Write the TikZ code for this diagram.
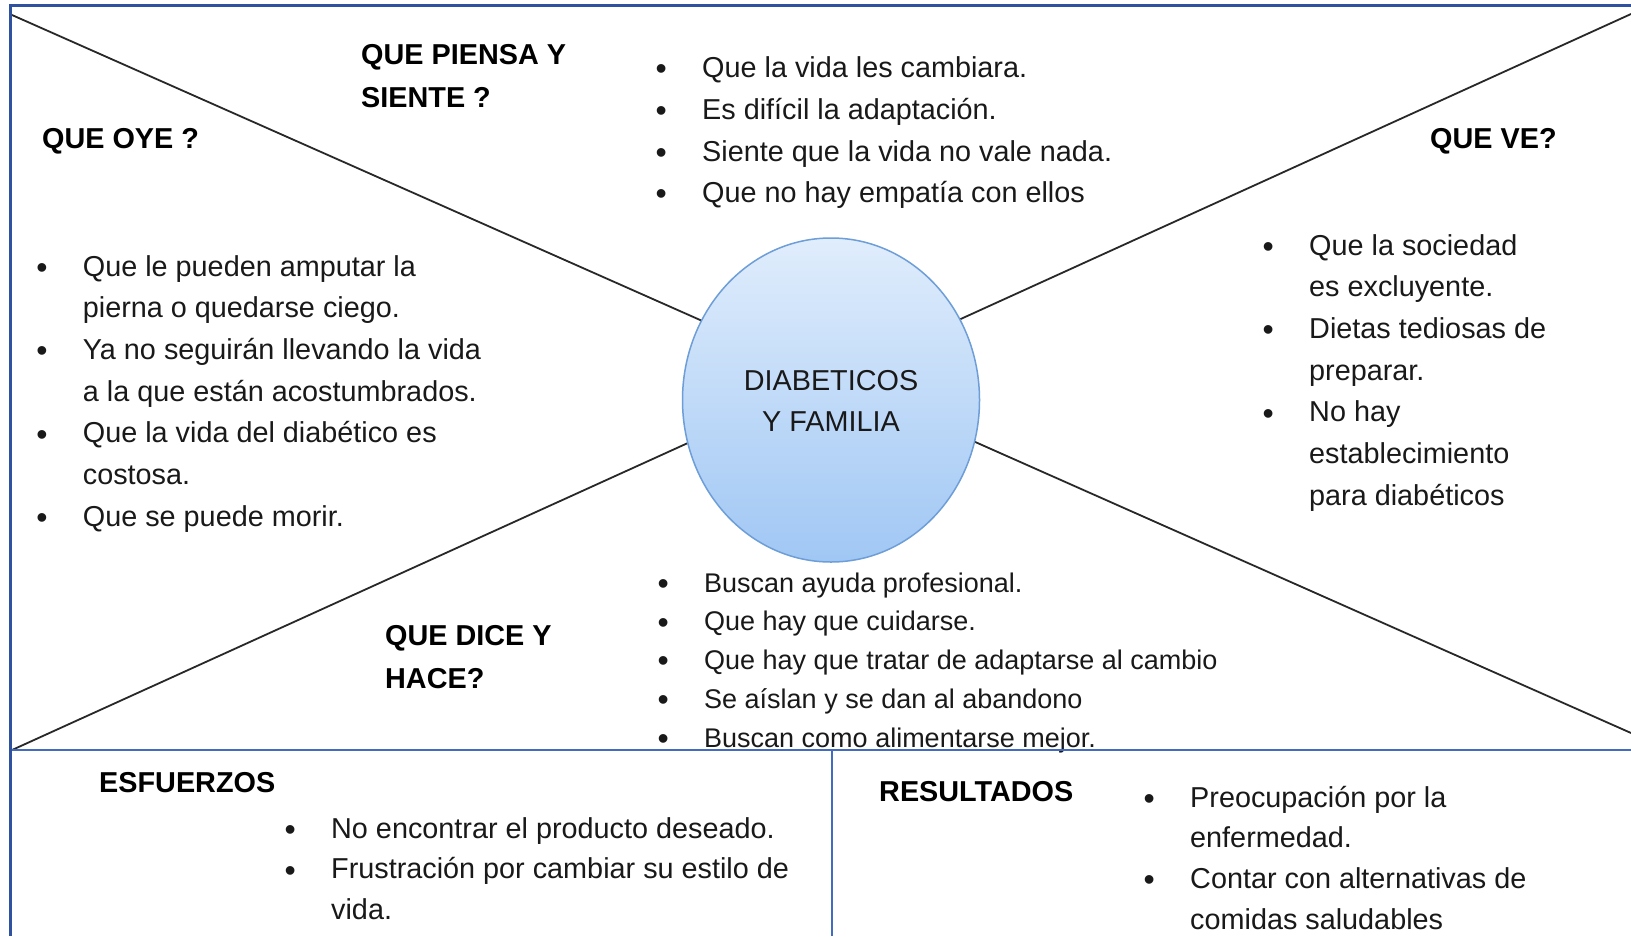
\documentclass[tikz,border=0pt]{standalone}
\usepackage{fontspec}
\setmainfont{Liberation Sans}
\usetikzlibrary{shapes.geometric}
\definecolor{frameblue}{RGB}{47,82,160}
\definecolor{lineblue}{RGB}{68,108,190}
\definecolor{diag}{RGB}{40,40,40}
\definecolor{ctop}{RGB}{224,237,252}
\definecolor{cbot}{RGB}{160,199,244}
\definecolor{cedge}{RGB}{110,158,216}
\definecolor{txt}{RGB}{25,25,25}
\newcommand\bu{\makebox[44.5bp][l]{\hspace*{-2bp}\raisebox{-2.2bp}{\fontsize{32bp}{32bp}\selectfont\textbullet}}}
\newcommand\ind{\hspace*{44.5bp}}
\begin{document}
\begin{tikzpicture}[x=1bp,y=-1bp,
  frame/.style={draw=frameblue, line width=3bp},
  divider/.style={draw=lineblue, line width=1.6bp},
  spoke/.style={draw=diag, line width=1.8bp},
  head/.style={anchor=north west, inner sep=0pt, align=left, text=black,
    font={\fontsize{28.8bp}{43bp}\selectfont\bfseries}},
  body/.style={anchor=north west, inner sep=0pt, align=left, text=txt,
    font={\fontsize{28.8bp}{41.7bp}\selectfont}},
  bodyb/.style={anchor=north west, inner sep=0pt, align=left, text=txt,
    font={\fontsize{28.8bp}{40.8bp}\selectfont}},
  bodysm/.style={anchor=north west, inner sep=0pt, align=left, text=txt,
    font={\fontsize{27bp}{38.8bp}\selectfont}},
  hub/.style={ellipse, minimum width=297bp, minimum height=324bp, inner sep=0pt,
    top color=ctop, bottom color=cbot, draw=cedge, line width=1.5bp},
  hublabel/.style={anchor=north, inner sep=0pt, align=center, text=txt,
    font={\fontsize{28.8bp}{41bp}\selectfont}}
]
\useasboundingbox (0,0) rectangle (1631,936);
\fill[white] (0,0) rectangle (1631,936);

% corners and focus
\coordinate (ul) at (12,15);
\coordinate (ur) at (1631,14);
\coordinate (ll) at (12,750);
\coordinate (lr) at (1631,733);
\coordinate (focus) at (831,378);

% spokes
\draw[spoke] (ul) -- (focus);
\draw[spoke] (ur) -- (focus);
\draw[spoke] (ll) -- (focus);
\draw[spoke] (lr) -- (focus);

% hub
\node[hub] (hubnode) at (831,400) {};
\node[hublabel] (hubtext) at (831,361.5) {\strut DIABETICOS\\Y FAMILIA};

% headings
\node[head] (hpiensa) at (361,33.9) {\strut QUE PIENSA Y\\SIENTE ?};
\node[head] (hoye) at (42,118.4) {\strut QUE OYE ?};
\node[head] (hve) at (1430,117.9) {\strut QUE VE?};
\node[head] (hdice) at (385,614.9) {\strut QUE DICE Y\\HACE?};
\node[head] (hesf) at (99,761.9) {\strut ESFUERZOS};
\node[head] (hres) at (879,770.9) {\strut RESULTADOS};

% text blocks
\node[body] (tpiensa) at (657.5,48.3) {\strut\bu Que la vida les cambiara.\\
  \bu Es difícil la adaptación.\\
  \bu Siente que la vida no vale nada.\\
  \bu Que no hay empatía con ellos};

\node[body] (toye) at (38.2,246.8) {\strut\bu Que le pueden amputar la\\
  \ind pierna o quedarse ciego.\\
  \bu Ya no seguirán llevando la vida\\
  \ind a la que están acostumbrados.\\
  \bu Que la vida del diabético es\\
  \ind costosa.\\
  \bu Que se puede morir.};

\node[body] (tve) at (1264.5,225.8) {\strut\bu Que la sociedad\\
  \ind es excluyente.\\
  \bu Dietas tediosas de\\
  \ind preparar.\\
  \bu No hay\\
  \ind establecimiento\\
  \ind para diabéticos};

\node[bodysm] (tdice) at (659.5,564.8) {\strut\bu Buscan ayuda profesional.\\
  \bu Que hay que cuidarse.\\
  \bu Que hay que tratar de adaptarse al cambio\\
  \bu Se aíslan y se dan al abandono\\
  \bu Buscan como alimentarse mejor.};

\node[bodyb] (tesf) at (286.5,809.4) {\strut\bu No encontrar el producto deseado.\\
  \bu Frustración por cambiar su estilo de\\
  \ind vida.};

\node[bodyb] (tres) at (1145.5,778.4) {\strut\bu Preocupación por la\\
  \ind enfermedad.\\
  \bu Contar con alternativas de\\
  \ind comidas saludables};

% dividers and frame
\coordinate (dl) at (10,750);
\coordinate (dr) at (1631,750);
\coordinate (vt) at (832,750);
\coordinate (vb) at (832,936);
\draw[divider] (dl) -- (dr);
\draw[divider] (vt) -- (vb);
\coordinate (ftr) at (1631,5);
\coordinate (ftl) at (10,5);
\coordinate (fbl) at (10,936);
\draw[frame] (ftr) -- (ftl) -- (fbl);
\end{tikzpicture}
\end{document}
